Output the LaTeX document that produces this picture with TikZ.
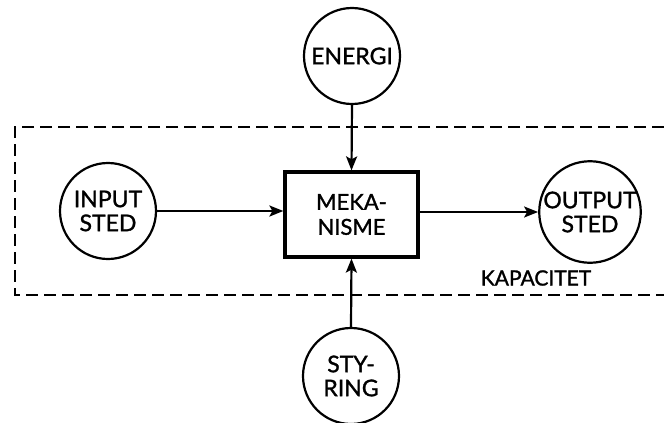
\documentclass[tikz,border=0pt]{standalone}
\usepackage{fontspec}
\setmainfont{Lato}[BoldFont=Lato, BoldFeatures={FakeBold=1.3}]
\usetikzlibrary{arrows.meta}
\tikzset{
  circ/.style={draw, circle, line width=2.2pt, minimum size=96pt, inner sep=0pt, align=center, font=\fontsize{23}{24}\selectfont\bfseries},
  mechbox/.style={draw, rectangle, line width=3.2pt, minimum width=133pt, minimum height=85pt, inner sep=0pt, align=center, font=\fontsize{22}{25}\selectfont\bfseries},
  conn/.style={line width=2.2pt, -{Stealth[length=14pt, width=11pt, inset=3pt]}},
  bound/.style={line width=2.8pt, dash pattern=on 12pt off 6pt},
  lbl/.style={font=\fontsize{21}{22}\selectfont\bfseries, inner sep=0pt}
}
\begin{document}
\begin{tikzpicture}[x=1pt,y=-1pt]
\useasboundingbox (0,0) rectangle (664,423);
\coordinate (btr) at (664,127);
\coordinate (btl) at (15,127);
\coordinate (bbl) at (15,295);
\coordinate (bbr) at (664,295);
\draw[bound] (btr) -- (btl) -- (bbl) -- (bbr);
\node[circ] (energi) at (352,56) {ENERGI};
\node[circ] (inp) at (108,211) {INPUT\\STED};
\node[mechbox] (mek) at (351.5,214.5) {MEKA-\\NISME};
\node[circ] (out) at (590,212) {OUTPUT\\STED};
\node[circ] (styr) at (351,376) {STY-\\RING};
\node[lbl] (kap) at (536,278) {KAPACITET};
\draw[conn] (energi.south) -- (mek.north);
\draw[conn] (styr.north) -- (mek.south);
\draw[conn] (inp.east) -- (inp.east -| mek.west);
\draw[conn] (out.west -| mek.east) -- (out.west);
\end{tikzpicture}
\end{document}
